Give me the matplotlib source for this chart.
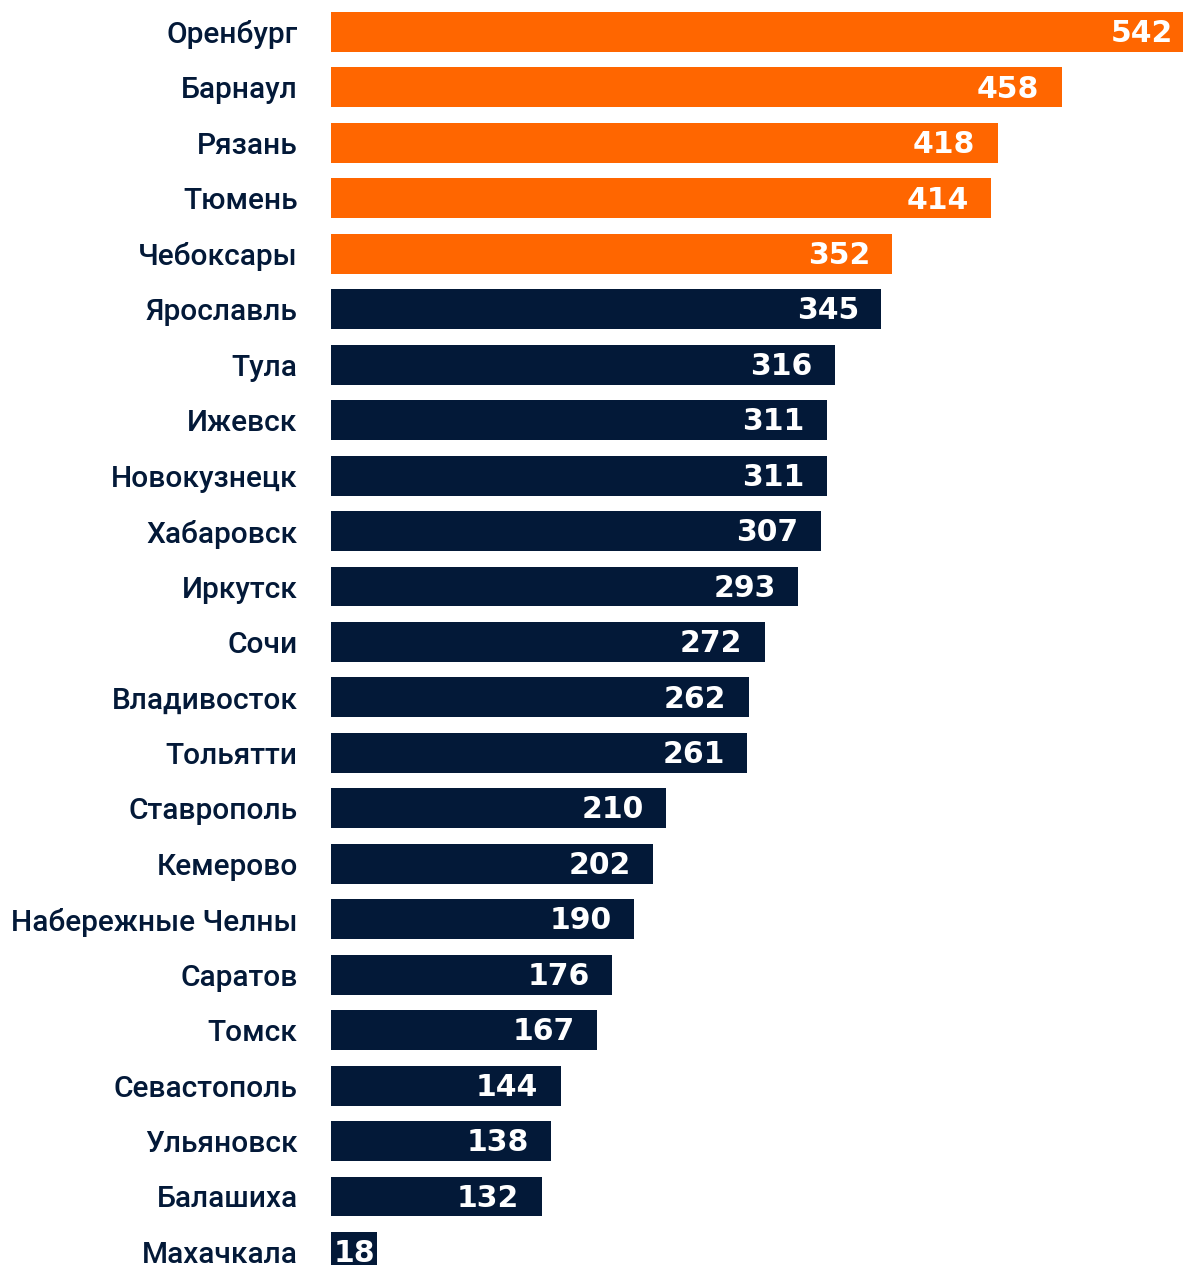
import matplotlib.pyplot as plt

cities = ['Оренбург', 'Барнаул', 'Рязань', 'Тюмень', 'Чебоксары', 'Ярославль',
          'Тула', 'Ижевск', 'Новокузнецк', 'Хабаровск', 'Иркутск', 'Сочи',
          'Владивосток', 'Тольятти', 'Ставрополь', 'Кемерово',
          'Набережные Челны', 'Саратов', 'Томск', 'Севастополь', 'Ульяновск',
          'Балашиха', 'Махачкала']
values = [542, 458, 418, 414, 352, 345, 316, 311, 311, 307, 293, 272,
          262, 261, 210, 202, 190, 176, 167, 144, 138, 132, 18]
n_top = 5  # first five highlighted

ORANGE = '#FF6600'
NAVY = '#031938'

W, H = 1183, 1265
fig = plt.figure(figsize=(W / 100, H / 100), dpi=100)
left = 331 / W
ax = fig.add_axes([left, 0, 1 - left, 1])

# small bars get a minimal width so the label fits
min_w = 29
widths = [max(v, min_w) for v in values]
colors = [ORANGE if i < n_top else NAVY for i in range(len(values))]
ypos = list(range(len(values)))
ax.barh(ypos, widths, height=0.72, color=colors)

for y, v, w in zip(ypos, values, widths):
    if v < 50:
        x, ha = w / 2, 'center'
    else:
        x, ha = w - 14, 'right'
    ax.text(x, y + 0.03, str(v), ha=ha, va='center', color='white',
            fontsize=21.5, fontweight='bold', family='DejaVu Sans')

ax.set_xlim(0, 852 / 1.595)
ax.set_ylim(22.236, -0.577)
ax.set_yticks(ypos)
ax.set_yticklabels(cities, fontsize=21.5, color=NAVY, family='Roboto',
                   fontweight='medium')
ax.tick_params(axis='y', length=0, pad=24)
ax.set_xticks([])
for s in ax.spines.values():
    s.set_visible(False)

fig.savefig('out.png', dpi=100)
